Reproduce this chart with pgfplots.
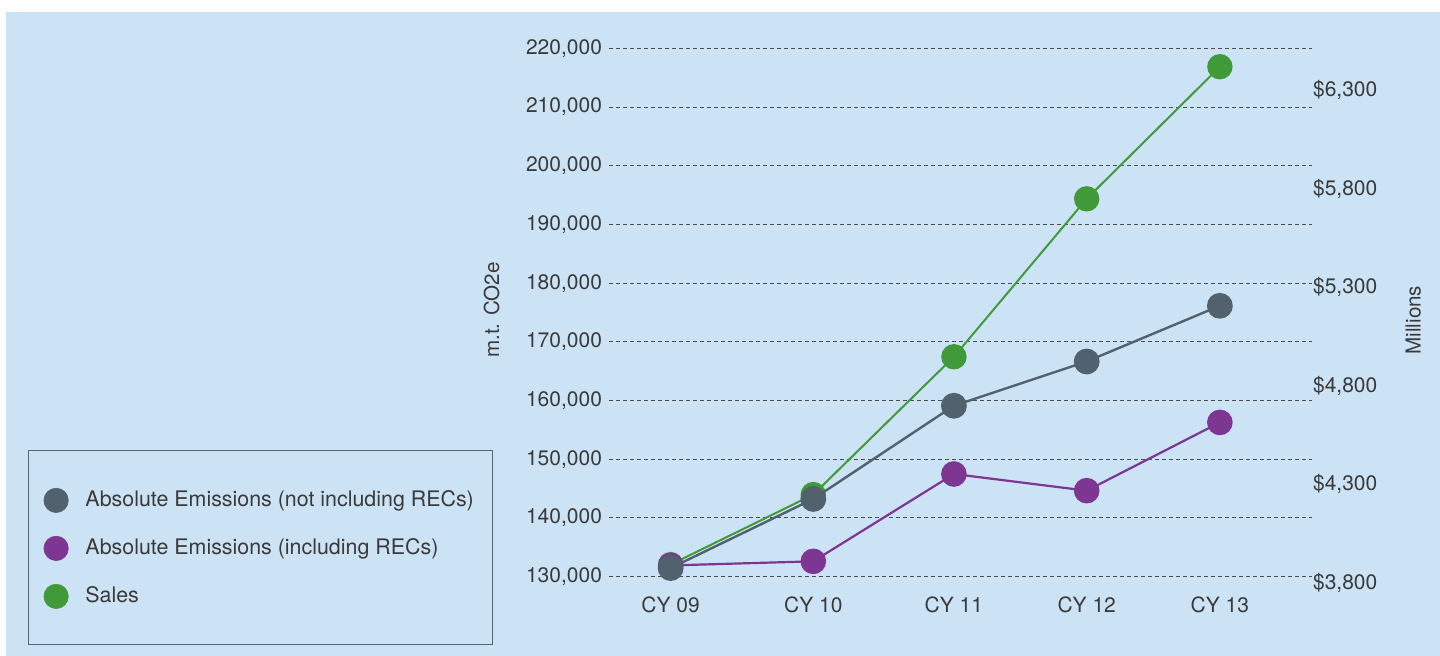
\documentclass[border=0pt]{standalone}
\usepackage{pgfplots}
\pgfplotsset{compat=1.18}
\usepackage{fontspec}
\setmainfont{TeX Gyre Heros}
\definecolor{bg}{HTML}{CCE3F5}
\definecolor{slate}{HTML}{52616E}
\definecolor{plum}{HTML}{7D3691}
\definecolor{leaf}{HTML}{419A39}
\definecolor{txt}{HTML}{3A3A3A}
\definecolor{gridc}{HTML}{4E4E4E}
\definecolor{boxc}{HTML}{5B6670}
\newcommand{\tfont}{\fontsize{10.5pt}{12pt}\selectfont}
\begin{document}
\begin{tikzpicture}[x=1pt,y=1pt]
\fill[white] (0,0) rectangle (720,328);
\fill[bg] (3,0) rectangle (720,322);
\draw[boxc, line width=0.6pt] (14.15,5.85) rectangle (246.15,102.65);
% axis 1: grid and left labels
\begin{axis}[
  at={(304.5pt,39.7pt)}, anchor=south west, scale only axis,
  width=351.5pt, height=264.1pt,
  xmin=-0.449, xmax=4.671, ymin=130000, ymax=220000,
  axis x line=bottom, axis y line=left,
  axis line style={draw=none},
  major tick length=0pt,
  ytick={130000,140000,150000,160000,170000,180000,190000,200000,210000,220000},
  yticklabels={130{,}000,140{,}000,150{,}000,160{,}000,170{,}000,180{,}000,190{,}000,200{,}000,210{,}000,220{,}000},
  scaled y ticks=false,
  ymajorgrids,
  grid style={gridc, line width=0.5pt, dash pattern=on 2pt off 1.5pt},
  xtick={0,1.039,2.063,3.030,4},
  xticklabels={CY 09,CY 10,CY 11,CY 12,CY 13},
  xticklabel style={font=\tfont, text=txt, yshift=-6.7pt},
  yticklabel style={font=\tfont, text=txt},
  ylabel={m.t. CO2e},
  ylabel style={font=\fontsize{10.3pt}{12pt}\selectfont, text=txt, at={(rel axis cs:-0.1669,0.5047)}, anchor=center},
]
\end{axis}
% axis 2: sales on the right
\begin{axis}[
  at={(304.5pt,31.6pt)}, anchor=south west, scale only axis,
  width=351.5pt, height=272.2pt,
  xmin=-0.449, xmax=4.671, ymin=3750, ymax=6511,
  axis x line=none, axis y line*=right,
  axis line style={draw=none},
  major tick length=0pt,
  ytick={3800,4300,4800,5300,5800,6300},
  yticklabels={\$3{,}800,\$4{,}300,\$4{,}800,\$5{,}300,\$5{,}800,\$6{,}300},
  yticklabel style={font=\tfont, text=txt, xshift=-3pt},
  ylabel={Millions},
  ylabel style={font=\fontsize{10.3pt}{12pt}\selectfont, text=txt, at={(rel axis cs:1.144,0.501)}, anchor=center, rotate=0},
  clip=false,
]
\addplot[leaf, line width=1pt, mark=*, mark size=5.85pt, mark options={fill=leaf, draw=none}]
  coordinates {(0,3893) (1.039,4248) (2.063,4947) (3.030,5748) (4,6418)};
\end{axis}
% axis 3: emissions
\begin{axis}[
  at={(304.5pt,39.7pt)}, anchor=south west, scale only axis,
  width=351.5pt, height=264.1pt,
  xmin=-0.449, xmax=4.671, ymin=130000, ymax=220000,
  hide axis, clip=false,
  legend image code/.code={\path[draw=none,fill=none] (-6.25pt,-6.25pt) rectangle (14.65pt,6.25pt); \draw[#1] plot coordinates {(0pt,0pt)};},
  legend cell align=left,
  legend style={at={(rel axis cs:-0.8048,0.1687)}, anchor=north west, draw=none, fill=none,
    inner sep=0pt, row sep=11.5pt, column sep=0pt,
    nodes={inner sep=0pt, text depth=0.15em, font=\fontsize{10.7pt}{12pt}\selectfont, text=txt}},
]
\addplot[plum, line width=1.1pt, mark=*, mark size=5.85pt, mark options={fill=plum, draw=none}, forget plot]
  coordinates {(0,131900) (1.039,132600) (2.063,147480) (3.030,144640) (4,156270)};
\addplot[slate, line width=1.2pt, mark=*, mark size=5.85pt, mark options={fill=slate, draw=none}, forget plot]
  coordinates {(0,131450) (1.039,143230) (2.063,159110) (3.030,166650) (4,176140)};
\addlegendimage{only marks, mark=*, mark size=6.1pt, color=slate, line width=0.3pt}
\addlegendentry{Absolute Emissions (not including RECs)}
\addlegendimage{only marks, mark=*, mark size=6.1pt, color=plum, line width=0.3pt}
\addlegendentry{Absolute Emissions (including RECs)}
\addlegendimage{only marks, mark=*, mark size=6.1pt, color=leaf, line width=0.3pt}
\addlegendentry{Sales}
\end{axis}
\pgfresetboundingbox
\useasboundingbox (0,0) rectangle (720,328);
\end{tikzpicture}
\end{document}
